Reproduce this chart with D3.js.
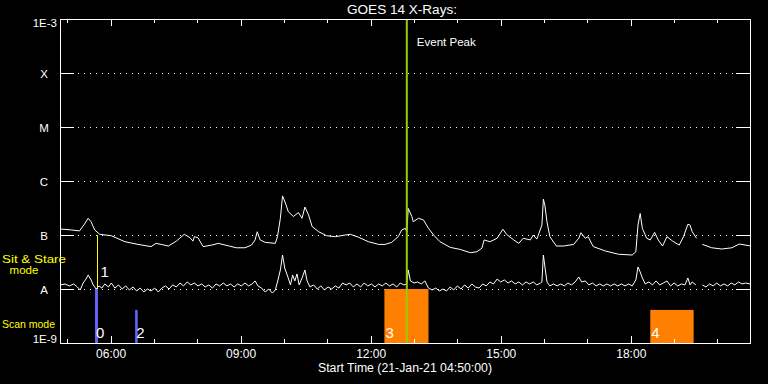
<!DOCTYPE html>
<html>
<head>
<meta charset="utf-8">
<script src="https://cdn.jsdelivr.net/npm/d3@7"></script>
<style>
  html, body { margin: 0; padding: 0; background: #000; }
  svg { display: block; }
  text { font-family: "Liberation Sans", Arial, sans-serif; }
</style>
</head>
<body>
<svg id="chart" width="768" height="384"></svg>
<script>
// ---------- DATA ----------
const chartTitle = "GOES 14 X-Rays:";
const xAxisTitle = "Start Time (21-Jan-21 04:50:00)";
const timeDomain = ["04:50", "20:45"];

const classValues = [1e-3, 1e-4, 1e-5, 1e-6, 1e-7, 1e-8, 1e-9];
const classLabels = ["1E-3", "X", "M", "C", "B", "A", "1E-9"];
const gridValues  = [1e-4, 1e-5, 1e-6, 1e-7, 1e-8];

// Long channel (1-8 Å), W/m²
const longTimes = ["04:51","05:06","05:17","05:23","05:29","05:33","05:38","05:45","06:01","06:20","06:38","06:56","07:03","07:10","07:20","07:31","07:42","07:50","07:54","07:56","08:01","08:08","08:20","08:29","08:43","08:54","09:06","09:15","09:20","09:23","09:27","09:34","09:48","09:51","09:55","09:58","10:02","10:06","10:13","10:20","10:25","10:29","10:34","10:39","10:48","10:59","11:11","11:25","11:32","11:43","11:57","12:11","12:20","12:29","12:38","12:43","12:48","12:50","12:52","12:57","12:59","13:06","13:13","13:20","13:27","13:36","13:50","14:04","14:18","14:27","14:34","14:37","14:45","14:55","15:03","15:08","15:18","15:25","15:31","15:41","15:45","15:50","15:57","15:59","16:01","16:04","16:08","16:17","16:27","16:41","16:48","16:51","16:57","17:01","17:08","17:25","17:43","18:02","18:07","18:10","18:13","18:16","18:22","18:27","18:33","18:38","18:44","18:50","18:58","19:07","19:13","19:19","19:22","19:25","19:31","19:35","19:39","19:52","20:06","20:20","20:30","20:45"];
const longFlux = [1.29e-7,1.24e-7,1.19e-7,1.53e-7,2.04e-7,1.76e-7,1.24e-7,1.03e-7,9.7e-8,7.5e-8,6.7e-8,6.1e-8,7.0e-8,6.7e-8,6.25e-8,7.7e-8,1.03e-7,8.9e-8,7.7e-8,9.3e-8,8.9e-8,6.1e-8,6.5e-8,7.0e-8,6.3e-8,5.8e-8,5.8e-8,6.5e-8,8.1e-8,1.15e-7,8.1e-8,7.3e-8,7.0e-8,9.3e-8,2.04e-7,5.3e-7,3.9e-7,2.7e-7,2.2e-7,2.6e-7,2.04e-7,3.3e-7,2.35e-7,1.43e-7,1.15e-7,9.7e-8,9.3e-8,1.0e-7,1.03e-7,9.1e-8,7.5e-8,6.7e-8,6.7e-8,7.3e-8,9.3e-8,1.24e-7,1.33e-7,1.15e-7,3.1e-7,2.2e-7,1.76e-7,2.04e-7,1.9e-7,1.33e-7,1.0e-7,7.5e-8,5.9e-8,5.4e-8,4.7e-8,4.9e-8,5.7e-8,8.1e-8,7.5e-8,8.7e-8,1.28e-7,1.03e-7,8.1e-8,7.0e-8,8.7e-8,8.1e-8,1.0e-7,8.4e-8,1.53e-7,4.6e-7,3.6e-7,1.76e-7,9.3e-8,6.25e-8,6.25e-8,6.7e-8,8.7e-8,1.1e-7,8.7e-8,9.3e-8,6.1e-8,5.05e-8,4.4e-8,4.26e-8,4.9e-8,1.53e-7,2.5e-7,1.33e-7,8.7e-8,8.1e-8,1.12e-7,8.1e-8,6.25e-8,9.3e-8,7.7e-8,6.5e-8,9.3e-8,1.58e-7,1.53e-7,1.15e-7,8.7e-8,null,6.7e-8,5.8e-8,5.5e-8,5.8e-8,6.8e-8,6.3e-8];

// Short channel (0.5-4 Å), W/m²
const shortTimes = ["04:51","04:57","05:03","05:09","05:14","05:18","05:22","05:26","05:29","05:33","05:36","05:40","05:44","05:48","05:52","05:57","06:01","06:06","06:11","06:16","06:21","06:26","06:31","06:36","06:41","06:46","06:51","06:56","07:01","07:06","07:11","07:16","07:21","07:26","07:31","07:36","07:41","07:46","07:51","07:56","08:01","08:06","08:11","08:16","08:21","08:26","08:31","08:36","08:41","08:46","08:51","08:56","09:01","09:06","09:11","09:16","09:20","09:24","09:29","09:34","09:39","09:44","09:48","09:51","09:55","09:58","10:01","10:05","10:09","10:12","10:15","10:18","10:21","10:25","10:29","10:32","10:36","10:41","10:46","10:51","10:56","11:01","11:06","11:11","11:16","11:21","11:26","11:31","11:36","11:41","11:46","11:51","11:56","12:01","12:06","12:11","12:16","12:21","12:26","12:31","12:36","12:41","12:46","12:50","12:52","12:55","13:00","13:05","13:10","13:15","13:20","13:25","13:30","13:35","13:40","13:45","13:50","13:55","14:00","14:05","14:10","14:15","14:20","14:25","14:30","14:35","14:40","14:45","14:50","14:55","15:00","15:05","15:10","15:15","15:20","15:25","15:30","15:35","15:40","15:45","15:50","15:55","15:57","15:59","16:01","16:04","16:08","16:13","16:18","16:23","16:28","16:33","16:38","16:43","16:48","16:52","16:57","17:02","17:07","17:12","17:17","17:22","17:27","17:32","17:37","17:42","17:47","17:52","17:57","18:02","18:07","18:10","18:13","18:16","18:20","18:25","18:30","18:35","18:40","18:45","18:50","18:55","19:00","19:05","19:10","19:15","19:19","19:22","19:25","19:30","19:35","19:39","19:44","19:49","19:54","19:59","20:04","20:09","20:14","20:19","20:24","20:29","20:34","20:39","20:45"];
const shortFlux = [1.19e-8,1.24e-8,1.14e-8,1.24e-8,1.09e-8,0.96e-8,1.29e-8,1.53e-8,1.82e-8,1.47e-8,1.19e-8,1.00e-8,1.14e-8,1.04e-8,1.24e-8,1.09e-8,1.29e-8,1.04e-8,1.19e-8,1.00e-8,1.14e-8,0.96e-8,1.09e-8,0.92e-8,1.04e-8,0.88e-8,1.00e-8,0.92e-8,1.04e-8,0.88e-8,1.04e-8,1.14e-8,1.00e-8,1.19e-8,1.09e-8,1.29e-8,1.14e-8,1.35e-8,1.19e-8,1.29e-8,1.14e-8,1.24e-8,1.09e-8,1.19e-8,1.04e-8,1.24e-8,1.14e-8,1.29e-8,1.14e-8,1.24e-8,1.09e-8,1.24e-8,1.14e-8,1.29e-8,1.14e-8,1.24e-8,1.41e-8,1.14e-8,1.04e-8,0.88e-8,1.00e-8,0.84e-8,0.96e-8,1.35e-8,2.25e-8,4.26e-8,2.45e-8,1.74e-8,1.19e-8,1.82e-8,1.41e-8,1.90e-8,1.19e-8,1.60e-8,2.25e-8,1.41e-8,1.09e-8,1.19e-8,1.00e-8,1.14e-8,0.96e-8,1.09e-8,1.00e-8,1.14e-8,1.04e-8,1.29e-8,1.19e-8,1.29e-8,1.09e-8,1.24e-8,1.09e-8,1.29e-8,1.14e-8,1.24e-8,1.09e-8,1.24e-8,1.14e-8,1.29e-8,1.14e-8,1.24e-8,1.09e-8,1.29e-8,1.19e-8,1.24e-8,2.25e-8,1.41e-8,1.29e-8,1.35e-8,1.24e-8,1.41e-8,1.04e-8,0.96e-8,1.04e-8,0.92e-8,1.00e-8,0.92e-8,1.09e-8,0.96e-8,1.14e-8,1.00e-8,1.19e-8,1.04e-8,1.24e-8,1.09e-8,1.04e-8,1.24e-8,1.14e-8,1.35e-8,1.24e-8,1.53e-8,1.35e-8,1.47e-8,1.29e-8,1.41e-8,1.24e-8,1.35e-8,1.19e-8,1.35e-8,1.24e-8,1.35e-8,1.19e-8,1.29e-8,1.35e-8,4.26e-8,2.67e-8,1.35e-8,1.14e-8,1.24e-8,1.14e-8,1.24e-8,1.14e-8,1.29e-8,1.19e-8,1.35e-8,1.67e-8,1.35e-8,1.41e-8,1.19e-8,1.29e-8,1.14e-8,1.24e-8,1.14e-8,1.24e-8,1.14e-8,1.24e-8,1.14e-8,1.24e-8,1.14e-8,1.24e-8,1.14e-8,1.47e-8,2.56e-8,2.07e-8,1.60e-8,1.24e-8,1.35e-8,1.19e-8,1.41e-8,1.19e-8,1.29e-8,1.41e-8,1.14e-8,1.29e-8,1.14e-8,1.24e-8,1.19e-8,1.60e-8,1.19e-8,1.35e-8,1.19e-8,null,1.19e-8,1.09e-8,1.24e-8,1.14e-8,1.29e-8,1.14e-8,1.24e-8,1.14e-8,1.29e-8,1.19e-8,1.35e-8,1.24e-8,1.29e-8,1.24e-8];

// Observation events (id, start, end, top flux, kind)
const eventIds    = ["0", "2", "3", "4"];
const eventStarts = ["05:38:30", "06:34", "12:19", "18:27"];
const eventEnds   = ["05:42:30", "06:37:30", "13:20", "19:27"];
const eventTops   = [1e-8, 4.1e-9, 1e-8, 4.1e-9];
const eventKinds  = ["blue", "blue", "orange", "orange"];

const sitStareId = "1";
const sitStareTime = "05:41";
const sitStareTop = 1e-7;
const sitStareBottom = 1e-8;

const peakTime = "12:50";
const peakLabel = "Event Peak";

const modeLabels = [["Sit & Stare", "mode"], ["Scan mode"]];

// ---------- CHART ----------
const parseT = s => d3.timeParse(s.length > 5 ? "%Y-%m-%d %H:%M:%S" : "%Y-%m-%d %H:%M")("2021-01-21 " + s);
const colors = { blue: "#6464ff", orange: "#ff8000", yellow: "#ffff00", green: "#9acd00" };

const svg = d3.select("#chart");
const L = 60, R = 750, T = 19, B = 343;

svg.append("rect").attr("width", 768).attr("height", 384).attr("fill", "#000");

const x = d3.scaleTime().domain(timeDomain.map(parseT)).range([L, R]);
const y = d3.scaleLog().domain([1e-9, 1e-3]).range([B, T]);

// dotted grid
svg.append("g").selectAll("line").data(gridValues).join("line")
  .attr("x1", L + 18).attr("x2", R - 12)
  .attr("y1", d => Math.round(y(d)) + 0.5).attr("y2", d => Math.round(y(d)) + 0.5)
  .attr("stroke", "#fff").attr("stroke-width", 1).attr("stroke-dasharray", "1 5");

// events (bars)
const events = eventIds.map((id, i) => ({ id, s: parseT(eventStarts[i]), e: parseT(eventEnds[i]), top: eventTops[i], kind: eventKinds[i] }));
svg.append("g").selectAll("rect").data(events).join("rect")
  .attr("x", d => x(d.s)).attr("width", d => x(d.e) - x(d.s))
  .attr("y", d => y(d.top)).attr("height", d => y(1e-9) - y(d.top))
  .attr("fill", d => colors[d.kind]);

// curves
const line = d3.line().defined(d => d.v != null).x(d => x(d.t)).y(d => y(d.v));
const longData = longTimes.map((t, i) => ({ t: parseT(t), v: longFlux[i] }));
const shortData = shortTimes.map((t, i) => ({ t: parseT(t), v: shortFlux[i] }));
[longData, shortData].forEach(data => {
  svg.append("path").datum(data).attr("d", line)
    .attr("fill", "none").attr("stroke", "#fff").attr("stroke-width", 1);
});

// sit & stare line
const sx = Math.round(x(parseT(sitStareTime))) + 0.5;
svg.append("line")
  .attr("x1", sx).attr("x2", sx)
  .attr("y1", y(sitStareTop)).attr("y2", y(sitStareBottom))
  .attr("stroke", colors.yellow).attr("stroke-width", 1);
svg.append("text").attr("x", sx + 3).attr("y", y(sitStareBottom) - 12)
  .attr("fill", "#fff").attr("font-size", 15).text(sitStareId);

// event number labels
svg.append("g").selectAll("text").data(events).join("text")
  .attr("x", d => x(d.s) + 1).attr("y", y(1e-9) - 5)
  .attr("fill", "#fff").attr("font-size", 15).text(d => d.id);

// event peak line
const px = x(parseT(peakTime));
svg.append("line").attr("x1", px).attr("x2", px).attr("y1", T).attr("y2", B)
  .attr("stroke", colors.green).attr("stroke-width", 2);
svg.append("text").attr("x", px + 10).attr("y", 46).attr("fill", "#fff")
  .attr("font-size", 11.5).attr("textLength", 59).attr("lengthAdjust", "spacingAndGlyphs").text(peakLabel);

// axes
const axG = svg.append("g").attr("shape-rendering", "crispEdges");
function styleAxis(g) {
  g.selectAll("path,line").attr("stroke", "#fff");
  g.selectAll("text").attr("fill", "#fff").attr("font-family", "Liberation Sans, Arial, sans-serif").attr("font-size", 12);
}
const minorTicks = d3.timeHour.every(1);
const majorTicks = d3.timeHour.every(3);
axG.append("g").attr("transform", `translate(0,${B})`)
  .call(d3.axisBottom(x).ticks(minorTicks).tickSize(-4).tickSizeOuter(0).tickFormat(""))
  .call(styleAxis);
axG.append("g").attr("transform", `translate(0,${B})`)
  .call(d3.axisBottom(x).ticks(majorTicks).tickSize(-7).tickSizeOuter(0).tickPadding(6).tickFormat(d3.timeFormat("%H:%M")))
  .call(styleAxis);
axG.append("g").attr("transform", `translate(0,${T})`)
  .call(d3.axisTop(x).ticks(minorTicks).tickSize(-4).tickSizeOuter(0).tickFormat(""))
  .call(styleAxis);
axG.append("g").attr("transform", `translate(0,${T})`)
  .call(d3.axisTop(x).ticks(majorTicks).tickSize(-7).tickSizeOuter(0).tickFormat(""))
  .call(styleAxis);
axG.append("g").attr("transform", `translate(${L},0)`)
  .call(d3.axisLeft(y).tickValues(classValues).tickSize(-14).tickSizeOuter(0).tickFormat(""))
  .call(styleAxis);
axG.append("g").attr("transform", `translate(${R},0)`)
  .call(d3.axisRight(y).tickValues(classValues).tickSize(-14).tickSizeOuter(0).tickFormat(""))
  .call(styleAxis);

// class labels
svg.append("g").selectAll("text").data(classValues).join("text")
  .attr("x", (d, i) => classLabels[i].length > 1 ? 57 : 44)
  .attr("y", (d, i) => i === 0 ? y(d) + 8 : (i === classValues.length - 1 ? y(d) : y(d) + 4.5))
  .attr("text-anchor", (d, i) => classLabels[i].length > 1 ? "end" : "middle")
  .attr("fill", "#fff").attr("font-size", 11.5).text((d, i) => classLabels[i]);

// mode labels
svg.append("text").attr("x", 2).attr("y", 263).attr("fill", colors.yellow).attr("font-size", 11.5)
  .attr("textLength", 64).attr("lengthAdjust", "spacingAndGlyphs").text(modeLabels[0][0]);
svg.append("text").attr("x", 24).attr("y", 274).attr("text-anchor", "middle").attr("fill", colors.yellow).attr("font-size", 11.5)
  .text(modeLabels[0][1]);
svg.append("text").attr("x", 2).attr("y", 328).attr("fill", colors.yellow).attr("font-size", 11.5)
  .attr("textLength", 53).attr("lengthAdjust", "spacingAndGlyphs").text(modeLabels[1][0]);

// titles
svg.append("text").attr("x", 402).attr("y", 13.5).attr("text-anchor", "middle")
  .attr("fill", "#fff").attr("font-size", 12.5).attr("textLength", 110).attr("lengthAdjust", "spacingAndGlyphs").text(chartTitle);
svg.append("text").attr("x", 405).attr("y", 372).attr("text-anchor", "middle")
  .attr("fill", "#fff").attr("font-size", 12).attr("textLength", 174).attr("lengthAdjust", "spacingAndGlyphs").text(xAxisTitle);
</script>
</body>
</html>
